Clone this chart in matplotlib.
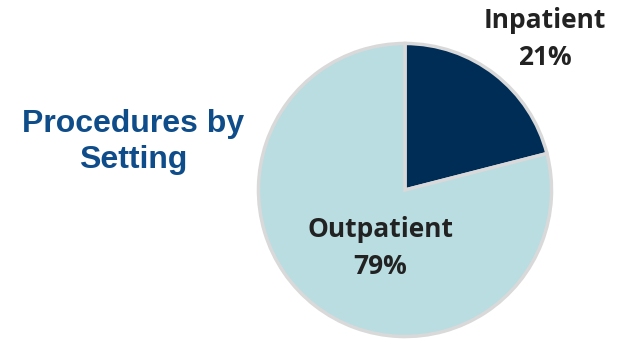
import matplotlib.pyplot as plt

labels = ['Inpatient', 'Outpatient']
shares = [21, 79]
colors = ['#002d56', '#b9dde1']

W, H = 629, 343
fig = plt.figure(figsize=(W / 100, H / 100), dpi=100)

# pie axes placed in pixel terms: left 257, right 553, top 43, bottom 338
ax = fig.add_axes([257 / W, (H - 338) / H, 296 / W, 296 / H])
ax.pie(shares, colors=colors, startangle=90, counterclock=False,
       wedgeprops=dict(edgecolor='#d9d9d9', linewidth=2.5))
ax.set_xlim(-1.01, 1.01)
ax.set_ylim(-1.01, 1.01)
ax.set_aspect('equal')


def px(x, y):
    return x / W, 1 - y / H


lab_font = dict(family='Open Sans', weight='bold', fontsize=19, color='#222222',
                ha='center', va='center', linespacing=1.45)
fig.text(*px(545, 39), f'{labels[0]}\n{shares[0]}%', **lab_font)
fig.text(*px(380, 248), f'{labels[1]}\n{shares[1]}%', **lab_font)

fig.text(*px(133, 142), 'Procedures by\nSetting', family='Liberation Sans',
         weight='bold', fontsize=23, color='#0f4d8a', ha='center', va='center',
         linespacing=1.25)

fig.savefig('out.png', dpi=100)
